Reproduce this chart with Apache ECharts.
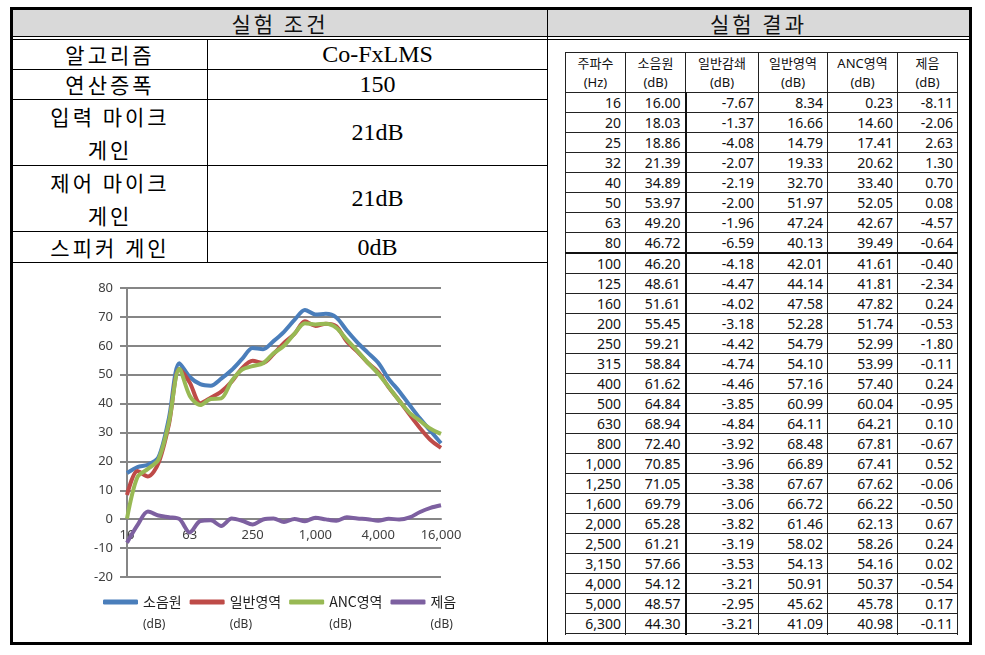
<!DOCTYPE html>
<html><head><meta charset="utf-8">
<script src="https://cdn.jsdelivr.net/npm/echarts@6/dist/echarts.min.js"></script>
<style>
html,body{margin:0;padding:0;background:#fff;width:985px;height:655px;overflow:hidden;}
.a{position:absolute;box-sizing:border-box;}
.frame{left:10px;top:7px;width:962px;height:638px;border:3px solid #000;}
.hdr{top:10px;height:26px;background:#d9d9d9;font-family:"Noto Sans CJK KR";font-size:21px;line-height:26px;text-align:center;letter-spacing:3px;color:#111;}
.hl{height:1px;background:#000;}
.vl{width:1px;background:#000;}
.cell{display:flex;align-items:center;justify-content:center;text-align:center;color:#000;}
.ko{font-family:"Noto Sans CJK KR";font-size:21px;letter-spacing:3px;line-height:33px;}
.se{font-family:"Liberation Serif","Noto Sans CJK KR";font-size:24px;}
#res{border-collapse:collapse;table-layout:fixed;font-family:"Noto Sans","Noto Sans CJK KR";color:#111;}
#res th{font-weight:normal;font-size:13px;line-height:19px;height:39px;padding:0;border:1px solid #222;text-align:center;vertical-align:middle;}
#res td{font-size:14px;height:19px;line-height:17px;padding:0 4px 0 0;border:1px solid #222;text-align:right;white-space:nowrap;}
</style></head>
<body>
<div class="a frame"></div>
<div class="a hdr" style="left:13px;width:534px;">실험 조건</div>
<div class="a hdr" style="left:548px;width:421px;">실험 결과</div>
<div class="a vl" style="left:547px;top:10px;height:632px;"></div>
<div class="a hl" style="left:13px;top:36px;width:956px;"></div>
<div class="a hl" style="left:13px;top:39px;width:956px;"></div>
<div class="a hl" style="left:13px;top:69px;width:534px;"></div>
<div class="a hl" style="left:13px;top:99px;width:534px;"></div>
<div class="a hl" style="left:13px;top:165px;width:534px;"></div>
<div class="a hl" style="left:13px;top:231px;width:534px;"></div>
<div class="a hl" style="left:13px;top:262px;width:534px;"></div>
<div class="a vl" style="left:207px;top:40px;height:222px;"></div>
<div id="condLeft"></div>
<div class="a" style="left:565px;top:52px;width:394px;height:583px;overflow:hidden;">
<table id="res"></table>
</div>
<div id="chart" class="a" style="left:13px;top:263px;width:534px;height:379px;"></div>
<script>
// 실험 조건
const condNames = ["알고리즘", "연산증폭", "입력 마이크<br>게인", "제어 마이크<br>게인", "스피커 게인"];
const condValues = ["Co-FxLMS", "150", "21dB", "21dB", "0dB"];
// 실험 결과 table
const freqLabels = ["16","20","25","32","40","50","63","80","100","125","160","200","250","315","400","500","630","800","1,000","1,250","1,600","2,000","2,500","3,150","4,000","5,000","6,300"];
const noiseSrc = [16.00,18.03,18.86,21.39,34.89,53.97,49.20,46.72,46.20,48.61,51.61,55.45,59.21,58.84,61.62,64.84,68.94,72.40,70.85,71.05,69.79,65.28,61.21,57.66,54.12,48.57,44.30];
const genAtten = [-7.67,-1.37,-4.08,-2.07,-2.19,-2.00,-1.96,-6.59,-4.18,-4.47,-4.02,-3.18,-4.42,-4.74,-4.46,-3.85,-4.84,-3.92,-3.96,-3.38,-3.06,-3.82,-3.19,-3.53,-3.21,-2.95,-3.21];
const genArea = [8.34,16.66,14.79,19.33,32.70,51.97,47.24,40.13,42.01,44.14,47.58,52.28,54.79,54.10,57.16,60.99,64.11,68.48,66.89,67.67,66.72,61.46,58.02,54.13,50.91,45.62,41.09];
const ancArea = [0.23,14.60,17.41,20.62,33.40,52.05,42.67,39.49,41.61,41.81,47.82,51.74,52.99,53.99,57.40,60.04,64.21,67.81,67.41,67.62,66.22,62.13,58.26,54.16,50.37,45.78,40.98];
const reduction = [-8.11,-2.06,2.63,1.30,0.70,0.08,-4.57,-0.64,-0.40,-2.34,0.24,-0.53,-1.80,-0.11,0.24,-0.95,0.10,-0.67,0.52,-0.06,-0.50,0.67,0.24,0.02,-0.54,0.17,-0.11];
const resHeaders = ["주파수<br>(Hz)","소음원<br>(dB)","일반감쇄<br>(dB)","일반영역<br>(dB)","ANC영역<br>(dB)","제음<br>(dB)"];
const colWidths = [60,60,73,69,70,60];
// chart-only bands above 6,300 Hz
const freqExt = ["8,000","10,000","12,500","16,000"];
const noiseExt = [39.5,34.8,30.5,26.3];
const genExt = [36.2,31.5,27.4,24.7];
const ancExt = [36.8,34.0,31.3,29.5];
const redExt = [0.6,2.5,3.9,4.8];
const seriesNames = ["소음원","일반영역","ANC영역","제음"];
const seriesColors = ["#4a7ebb","#be4b48","#98b954","#7d60a0"];

// left condition table
const rowTops = [40,70,100,166,232], rowBots = [69,99,165,231,262];
let lh = "";
condNames.forEach((n,i)=>{
  lh += `<div class="a cell ko" style="left:13px;width:194px;top:${rowTops[i]}px;height:${rowBots[i]-rowTops[i]}px;">${n}</div>`;
  lh += `<div class="a cell se" style="left:208px;width:339px;top:${rowTops[i]}px;height:${rowBots[i]-rowTops[i]}px;">${condValues[i]}</div>`;
});
document.getElementById('condLeft').innerHTML = lh;

// results table
let th = '<colgroup>' + colWidths.map(w=>`<col style="width:${w}px">`).join('') + '</colgroup><tr>';
resHeaders.forEach(h=>{ th += `<th>${h}</th>`; });
th += '</tr>';
freqLabels.forEach((f,i)=>{
  const thick = (i===7) ? ' style="border-bottom:2px solid #111"' : '';
  th += `<tr${thick}><td>${f}</td><td>${noiseSrc[i].toFixed(2)}</td><td style="border-left:2px solid #111">${genAtten[i].toFixed(2)}</td><td>${genArea[i].toFixed(2)}</td><td>${ancArea[i].toFixed(2)}</td><td>${reduction[i].toFixed(2)}</td></tr>`;
});
th += '<tr><td></td><td></td><td style="border-left:2px solid #111"></td><td></td><td></td><td></td></tr>';
document.getElementById('res').innerHTML = th;

// chart
const cats = freqLabels.concat(freqExt);
const seriesData = [noiseSrc.concat(noiseExt), genArea.concat(genExt), ancArea.concat(ancExt), reduction.concat(redExt)];
const chart = echarts.init(document.getElementById('chart'));
const gridColor = '#868686';
const yMin = -20, yMax = 80, gridH = 289;
chart.setOption({
  animation:false,
  grid:{left:114,top:25,width:314,height:gridH},
  xAxis:{type:'category',data:cats,boundaryGap:false,
    offset:-gridH*(0 - yMin)/(yMax - yMin),
    axisLine:{onZero:false,lineStyle:{color:gridColor,width:2}},
    axisTick:{show:false},
    axisLabel:{interval:5,margin:10,color:'#404040',fontSize:13,fontFamily:'Noto Sans'},
    splitLine:{show:false}},
  yAxis:{type:'value',min:yMin,max:yMax,interval:10,
    axisLine:{show:true,lineStyle:{color:gridColor,width:2}},
    axisTick:{show:true,length:7,lineStyle:{color:gridColor,width:2}},
    axisLabel:{margin:14,color:'#404040',fontSize:13,fontFamily:'Noto Sans'},
    splitLine:{show:true,lineStyle:{color:gridColor,width:2}}},
  legend:{left:90,top:332,padding:0,itemGap:8,itemWidth:35,itemHeight:5,icon:'roundRect',
    formatter:n=>'{n|'+n+'}\n{d|(dB)}',
    textStyle:{color:'#222',fontFamily:'Noto Sans CJK KR',align:'left',padding:[23,0,0,0],
      rich:{n:{fontSize:14,lineHeight:23,fontFamily:'Noto Sans CJK KR',color:'#222',align:'left'},
            d:{fontSize:12,lineHeight:23,fontFamily:'Noto Sans',color:'#333',align:'left'}}}},
  series:seriesNames.map((n,i)=>({name:n,type:'line',data:seriesData[i],smooth:0.3,showSymbol:false,
    color:seriesColors[i],lineStyle:{width:4,color:seriesColors[i]}}))
});
</script>
</body></html>
